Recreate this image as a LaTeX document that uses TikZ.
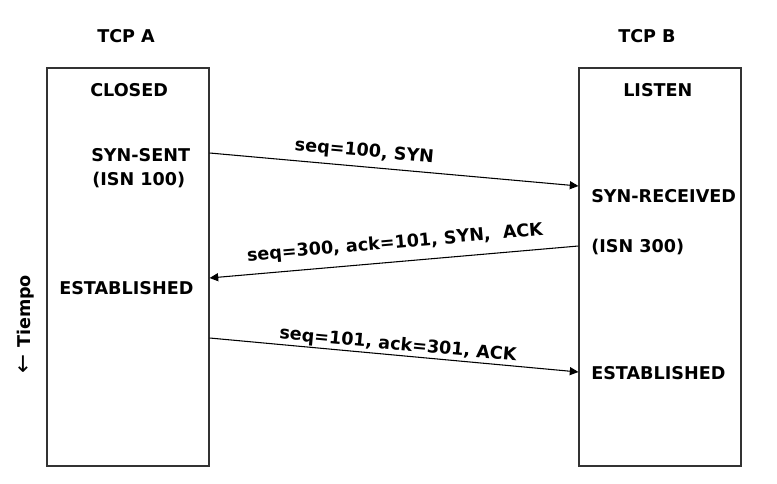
\documentclass[tikz,border=0pt]{standalone}
\usepackage{fontspec}
\setmainfont{DejaVu Sans}
\usetikzlibrary{arrows.meta}
\begin{document}
\begin{tikzpicture}[x=0.75pt,y=-0.75pt,
  txt/.style={font=\fontsize{13.2pt}{15pt}\selectfont\bfseries, inner sep=0pt, anchor=base west},
  hostbox/.style={draw=black!80, line width=0.8pt, minimum width=121.5pt, minimum height=298.5pt, inner sep=0pt},
  msg/.style={line width=0.8pt, -{Triangle[length=6.5pt,width=6pt]}},
  msglbl/.style={font=\fontsize{13.2pt}{15pt}\selectfont\bfseries, inner sep=0pt, sloped}
]
\useasboundingbox (0,0) rectangle (777,484);

% host boxes
\node[hostbox] (boxA) at (128,267) {};
\node[hostbox] (boxB) at (660,267) {};

% titles
\node[txt] (tcpa) at (97,43) {TCP A};
\node[txt] (tcpb) at (618,43) {TCP B};

% states A
\node[txt] (closed) at (90,97) {CLOSED};
\node[txt] (synsent) at (91,162) {SYN-SENT};
\node[txt] (isna) at (92,186) {(ISN 100)};
\node[txt] (estA) at (59,295) {ESTABLISHED};

% states B
\node[txt] (listen) at (623,97) {LISTEN};
\node[txt] (synrcvd) at (591,203) {SYN-RECEIVED};
\node[txt] (isnb) at (591,253) {(ISN 300)};
\node[txt] (estB) at (591,379) {ESTABLISHED};

% time axis
\node[font=\fontsize{13.2pt}{15pt}\selectfont\bfseries, inner sep=0pt, rotate=90, anchor=base] (tiempo) at (30,324) {{\mdseries\fontsize{17pt}{17pt}\selectfont ←} Tiempo};

% connector end points on the box edges
\coordinate (a1) at (boxA.east |- 0,153);
\coordinate (b1) at (boxB.west |- 0,186);
\coordinate (b2) at (boxB.west |- 0,246);
\coordinate (a2) at (boxA.east |- 0,278);
\coordinate (a3) at (boxA.east |- 0,338);
\coordinate (b3) at (boxB.west |- 0,372);

\draw[msg] (a1) -- node[msglbl, pos=0.416, above=4.5pt] (m1) {seq=100, SYN} (b1);
\draw[msg] (b2) -- node[msglbl, pos=0.493, above=7pt] (m2) {seq=300, ack=101, SYN,\ \ ACK} (a2);
\draw[msg] (a3) -- node[msglbl, pos=0.508, above=0.9pt] (m3) {seq=101, ack=301, ACK} (b3);
\end{tikzpicture}
\end{document}
